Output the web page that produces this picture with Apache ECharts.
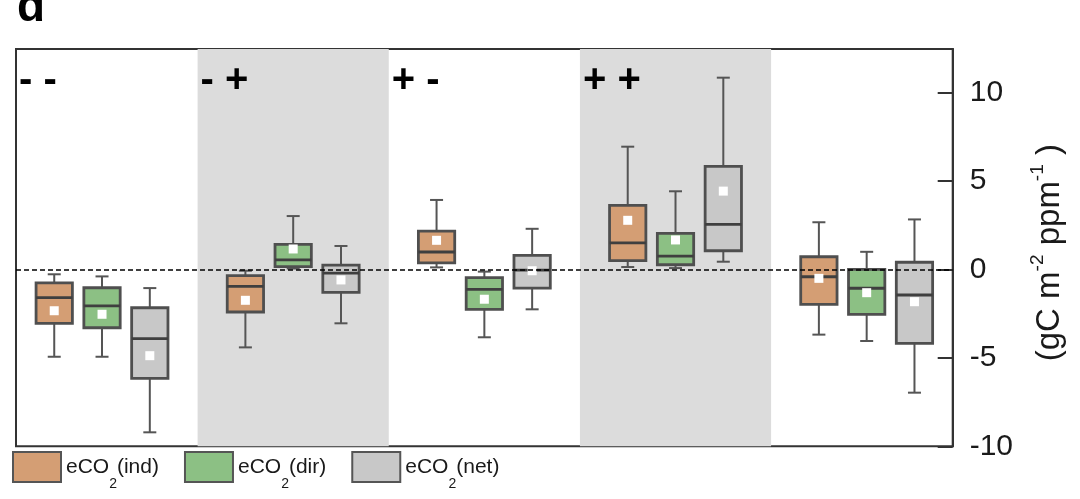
<!DOCTYPE html>
<html>
<head>
<meta charset="utf-8">
<script src="https://cdn.jsdelivr.net/npm/echarts@6.0.0/dist/echarts.min.js"></script>
<style>
html,body{margin:0;padding:0;background:#fff;}
#chart{width:1080px;height:499px;}
</style>
</head>
<body>
<div id="chart"></div>
<script>
// ---- data ----
const categories = ['- -', '- +', '+ -', '+ +', ''];
const seriesNames = ['ind', 'dir', 'net'];
// each row: [low whisker, Q1, median, Q3, high whisker] per group
const indBox = [
  [-4.94, -3.05, -1.60, -0.76, -0.28],
  [-4.41, -2.41, -0.96, -0.36, -0.08],
  [0.11, 0.37, 0.98, 2.16, 3.92],
  [0.13, 0.49, 1.49, 3.61, 6.93],
  [-3.69, -1.98, -0.42, 0.71, 2.66]
];
const indMean = [-2.34, -1.75, 1.64, 2.77, -0.51];
const dirBox = [
  [-4.94, -3.30, -2.06, -1.04, -0.40],
  [0.05, 0.15, 0.53, 1.41, 3.01],
  [-3.84, -2.26, -1.13, -0.47, -0.13],
  [0.07, 0.26, 0.75, 2.03, 4.41],
  [-4.05, -2.54, -1.07, 0.00, 0.99]
];
const dirMean = [-2.54, 1.15, -1.69, 1.66, -1.32];
const netBox = [
  [-9.21, -6.16, -3.92, -2.17, -1.06],
  [-3.05, -1.30, -0.21, 0.24, 1.32],
  [-2.26, -1.06, -0.04, 0.79, 2.29],
  [0.43, 1.05, 2.54, 5.82, 10.83],
  [-6.97, -4.18, -1.45, 0.40, 2.82]
];
const netMean = [-4.88, -0.60, -0.08, 4.42, -1.83];
const yTicks = [-10, -5, 0, 5, 10];
const shadedGroups = [1, 3];

// ---- styles ----
const colors = { ind: '#D49E74', dir: '#8CC084', net: '#C8C8C8' };
const offsets = { ind: -0.25, dir: 0, net: 0.25 };
const BOX_W = 0.19;
const CAP_W = 0.068;
const FONT = 'Liberation Sans, Arial, sans-serif';

function toRows(box, mean) {
  return box.map((b, i) => [i, b[0], b[1], b[2], b[3], b[4], mean[i]]);
}

function makeBox(offset) {
  return function (params, api) {
    const i = api.value(0);
    const x = api.coord([i + offset, 0])[0];
    const w = api.size([BOX_W, 0])[0];
    const cap = api.size([CAP_W, 0])[0];
    const py = v => api.coord([i, v])[1];
    const yl = py(api.value(1)), yq1 = py(api.value(2)), ym = py(api.value(3));
    const yq3 = py(api.value(4)), yh = py(api.value(5)), ymean = py(api.value(6));
    const fill = api.visual('color');
    const ls = { stroke: '#555', lineWidth: 2 };
    return {
      type: 'group',
      children: [
        { type: 'line', shape: { x1: x, y1: yh, x2: x, y2: yq3 }, style: ls },
        { type: 'line', shape: { x1: x, y1: yq1, x2: x, y2: yl }, style: ls },
        { type: 'line', shape: { x1: x - cap / 2, y1: yh, x2: x + cap / 2, y2: yh }, style: ls },
        { type: 'line', shape: { x1: x - cap / 2, y1: yl, x2: x + cap / 2, y2: yl }, style: ls },
        { type: 'rect', shape: { x: x - w / 2, y: yq3, width: w, height: yq1 - yq3 },
          style: { fill: fill, stroke: '#4f4f4f', lineWidth: 2.8 } },
        { type: 'line', shape: { x1: x - w / 2, y1: ym, x2: x + w / 2, y2: ym },
          style: { stroke: '#3f3f3f', lineWidth: 2.8 } },
        { type: 'rect', shape: { x: x - 4.5, y: ymean - 4.5, width: 9, height: 9 },
          style: { fill: '#fff' } }
      ]
    };
  };
}

const chart = echarts.init(document.getElementById('chart'), null, { renderer: 'canvas' });

const option = {
  animation: false,
  backgroundColor: '#fff',
  title: {
    text: 'd', left: 17, top: -15, padding: 0,
    textStyle: { fontSize: 46, fontWeight: 'bold', color: '#000', fontFamily: FONT, lineHeight: 46 }
  },
  grid: {
    left: 16, right: 127.3, top: 49, bottom: 52.7,
    containLabel: false, outerBoundsMode: 'none',
    show: true, borderColor: '#333', borderWidth: 2, backgroundColor: '#fff'
  },
  legend: {
    left: 12, top: 451, padding: 0, itemGap: 25,
    itemWidth: 48, itemHeight: 30,
    selectedMode: false,
    data: seriesNames.map(n => ({
      name: n, icon: 'rect',
      itemStyle: { color: colors[n], borderColor: '#555', borderWidth: 2 }
    })),
    formatter: n => '{a|eCO}{s|2}{a|(' + n + ')}',
    textStyle: {
      fontFamily: FONT,
      rich: {
        a: { fontSize: 21, lineHeight: 48, color: '#1a1a1a', fontFamily: FONT },
        s: { fontSize: 14, color: '#1a1a1a', verticalAlign: 'bottom', fontFamily: FONT }
      }
    }
  },
  xAxis: {
    type: 'value', min: -0.45, max: 4.45, show: false,
    axisLine: { onZero: false },
    splitLine: { show: false }
  },
  yAxis: {
    type: 'value', position: 'right', min: -10, max: 12.45, interval: 5,
    splitLine: { show: false },
    axisLine: { show: true, onZero: false, lineStyle: { color: '#333', width: 2 } },
    axisTick: { show: true, inside: true, length: 15, customValues: yTicks,
      lineStyle: { color: '#333', width: 2 } },
    axisLabel: {
      customValues: yTicks, fontSize: 30, color: '#1a1a1a', margin: 17, fontFamily: FONT,
      formatter: v => (Math.abs(v % 5) < 1e-9 ? String(v) : '')
    },
    name: '{a|(gC m}{s|-2}{a| ppm}{s|-1}{a| )}',
    nameLocation: 'middle', nameRotate: 90, nameGap: 76,
    nameTextStyle: {
      fontFamily: FONT,
      padding: [0, 10, 0, 0],
      rich: {
        a: { fontSize: 33, lineHeight: 42, color: '#1a1a1a', fontFamily: FONT },
        s: { fontSize: 19, color: '#1a1a1a', verticalAlign: 'top', fontFamily: FONT }
      }
    }
  },
  series: [
    {
      name: 'bands', type: 'custom', z: 1, silent: true,
      data: shadedGroups.map(i => [i]),
      encode: { x: 0 },
      renderItem: function (params, api) {
        const i = api.value(0);
        const cx = api.coord([i, 0])[0];
        const bw = api.size([1, 0])[0];
        const cs = params.coordSys;
        return { type: 'rect', shape: { x: cx - bw / 2, y: cs.y, width: bw, height: cs.height },
          style: { fill: '#DCDCDC' } };
      }
    },
    {
      name: 'ind', type: 'custom', z: 3, itemStyle: { color: colors.ind },
      data: toRows(indBox, indMean), encode: { x: 0, y: [1, 5] },
      renderItem: makeBox(offsets.ind)
    },
    {
      name: 'dir', type: 'custom', z: 3, itemStyle: { color: colors.dir },
      data: toRows(dirBox, dirMean), encode: { x: 0, y: [1, 5] },
      renderItem: makeBox(offsets.dir)
    },
    {
      name: 'net', type: 'custom', z: 3, itemStyle: { color: colors.net },
      data: toRows(netBox, netMean), encode: { x: 0, y: [1, 5] },
      renderItem: makeBox(offsets.net)
    },
    {
      name: 'signs', type: 'custom', z: 5, silent: true,
      data: categories.map((c, i) => [i]).filter(d => categories[d[0]] !== ''),
      encode: { x: 0 },
      renderItem: function (params, api) {
        const i = api.value(0);
        const cx = api.coord([i, 0])[0];
        const bw = api.size([1, 0])[0];
        const cs = params.coordSys;
        const left = Math.max(cx - bw / 2, cs.x) + 3;
        return { type: 'text', x: left, y: cs.y + 32,
          style: { text: categories[i], fill: '#000', font: 'bold 40px ' + FONT,
            textAlign: 'left', textVerticalAlign: 'middle' } };
      },
      markLine: {
        silent: true, symbol: ['none', 'none'], label: { show: false },
        lineStyle: { color: '#000', type: [5, 3], width: 1.5 },
        data: [{ yAxis: 0 }]
      }
    }
  ]
};
chart.setOption(option);
</script>
</body>
</html>
